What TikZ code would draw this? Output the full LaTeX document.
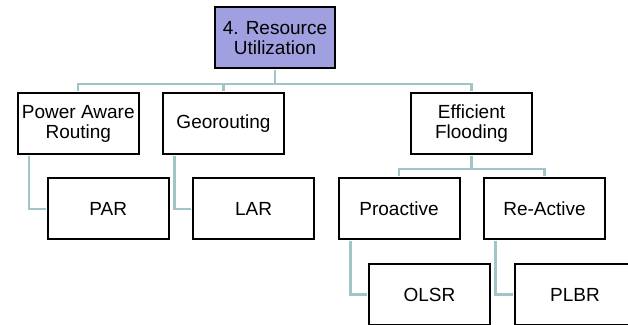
\documentclass[tikz,border=0pt]{standalone}
\usepackage{fontspec}
\setmainfont{Liberation Sans}
\definecolor{rootfill}{RGB}{160,160,224}
\definecolor{linkcol}{RGB}{160,196,200}
\begin{document}
\begin{tikzpicture}[x=1pt,y=-1pt,
  box/.style={draw=black,line width=2pt,fill=white,minimum width=121pt,minimum height=61pt,
    inner sep=0pt,align=center,font=\fontsize{19}{20}\selectfont},
  conn/.style={draw=linkcol,line width=2.2pt}]
\useasboundingbox (0,0) rectangle (628,324);
\clip (0,0) rectangle (628,324);
% boxes
\node[box,fill=rootfill,minimum width=120pt] (root) at (275,37.8) {4. Resource\\Utilization};
\node[box] (pwr) at (78.3,123.5) {Power Aware\\Routing};
\node[box] (geo) at (223.5,123.5) {Georouting};
\node[box] (eff) at (471.5,123.5) {Efficient\\Flooding};
\node[box] (par) at (108.3,208.8) {PAR};
\node[box] (lar) at (253.5,208.8) {LAR};
\node[box] (pro) at (399,208.8) {Proactive};
\node[box] (rea) at (544.5,208.8) {Re-Active};
\node[box] (olsr) at (429.5,294.5) {OLSR};
\node[box] (plbr) at (575,294.5) {PLBR};
% tree links
\draw[conn] ([yshift=-1pt]root.south) -- ++(0,13.5) -| ([yshift=1pt]pwr.north);
\draw[conn] ([yshift=-1pt]root.south) -- ++(0,13.5) -| ([yshift=1pt]geo.north);
\draw[conn] ([yshift=-1pt]root.south) -- ++(0,13.5) -| ([yshift=1pt]eff.north);
\draw[conn] ([yshift=-1pt]eff.south) -- ++(0,13) -| ([yshift=1pt]pro.north);
\draw[conn] ([yshift=-1pt]eff.south) -- ++(0,13) -| ([yshift=1pt]rea.north);
% side links to the boxes below
\draw[conn] ([xshift=12pt,yshift=-1pt]pwr.south west) |- ([xshift=-1pt]par.west);
\draw[conn] ([xshift=12.5pt,yshift=-1pt]geo.south west) |- ([xshift=-1pt]lar.west);
\draw[conn] ([xshift=13pt,yshift=-1pt]pro.south west) |- ([xshift=-1pt]olsr.west);
\draw[conn] ([xshift=12.5pt,yshift=-1pt]rea.south west) |- ([xshift=-1pt]plbr.west);
\end{tikzpicture}
\end{document}
